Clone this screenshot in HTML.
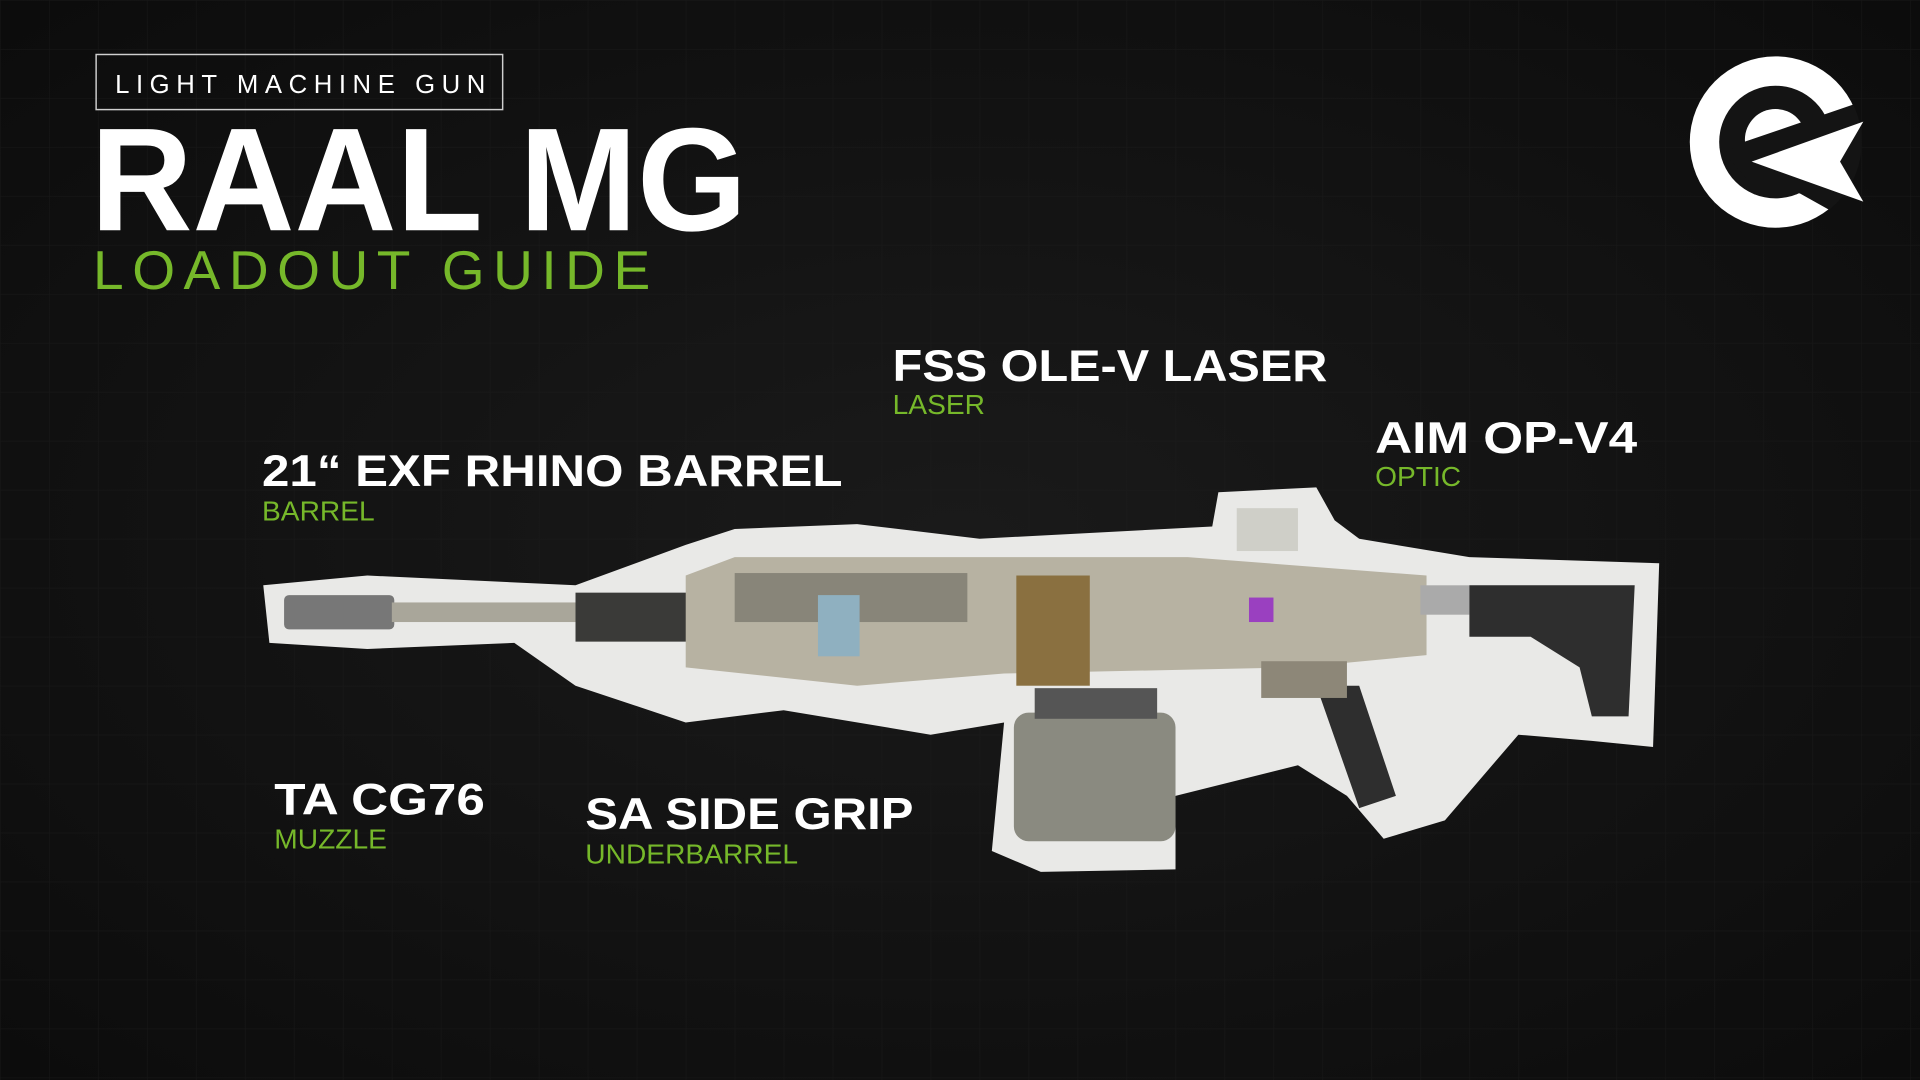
<!DOCTYPE html>
<html><head><meta charset="utf-8"><style>
html,body{margin:0;padding:0;background:#121212;width:1920px;height:1080px;overflow:hidden}
svg{display:block}
</style></head><body>
<svg width="1920" height="1080" viewBox="0 0 1568 882" xmlns="http://www.w3.org/2000/svg">
<defs>
<pattern id="g" width="40" height="40" patternUnits="userSpaceOnUse"><path d="M40 0H0V40" fill="none" stroke="#1d1d1d" stroke-width="1"/></pattern>
<radialGradient id="v" cx="50%" cy="50%" r="70%"><stop offset="0" stop-color="#1a1a1a"/><stop offset="1" stop-color="#0c0c0c"/></radialGradient>
<clipPath id="lc"><circle cx="1450" cy="116" r="70.5"/></clipPath>
</defs>
<rect width="1568" height="882" fill="url(#v)"/>
<rect width="1568" height="882" fill="url(#g)" opacity="0.6"/>

<!-- header -->
<rect x="78.5" y="44.5" width="332" height="45" fill="none" stroke="#cfcfcf" stroke-width="1.2"/>
<text x="94" y="76" font-family="Liberation Sans, sans-serif" font-size="21" fill="#fff" letter-spacing="3.6" textLength="306" lengthAdjust="spacing">LIGHT MACHINE GUN</text>
<text x="74" y="188" font-family="Liberation Sans, sans-serif" font-weight="bold" font-size="120" fill="#fff" textLength="536" lengthAdjust="spacingAndGlyphs">RAAL MG</text>
<text x="76" y="236" font-family="Liberation Sans, sans-serif" font-size="45" fill="#76b82a" letter-spacing="9" textLength="464" lengthAdjust="spacing">LOADOUT GUIDE</text>

<!-- logo -->
<circle cx="1450" cy="116" r="70" fill="#fff"/>
<g clip-path="url(#lc)">
<circle cx="1450" cy="116" r="46" fill="#141414"/>
<circle cx="1450" cy="114" r="25" fill="#fff"/>
<polygon fill="#141414" points="1425,115.7 1408,125 1430,150 1470,158 1495,172 1535,180 1535,84 1516.3,84.4"/>
</g>
<polygon fill="#fff" points="1430.5,132 1521.7,99.3 1502.7,132 1521.7,164.7"/>

<!-- paper -->
<polygon fill="#e9e9e7" points="215,478 300,470 470,478 560,445 600,432 700,428 800,440 990,430 995,402 1075,398 1090,425 1110,440 1200,455 1355,460 1350,610 1300,605 1240,600 1180,670 1130,685 1100,650 1060,625 960,650 960,710 850,712 810,695 820,590 760,600 640,580 560,590 470,560 420,525 300,530 220,525"/>
<!-- gun -->
<rect x="232" y="486" width="90" height="28" fill="#777" rx="4"/>
<rect x="320" y="492" width="160" height="16" fill="#a9a69a"/>
<rect x="470" y="484" width="95" height="40" fill="#3a3a38"/>
<polygon fill="#b7b2a2" points="560,470 600,455 970,455 1165,470 1165,535 1060,545 820,550 700,560 560,545"/>
<rect x="600" y="468" width="190" height="40" fill="#5a5850" opacity="0.5"/>
<rect x="668" y="486" width="34" height="50" fill="#8fb0c0"/>
<rect x="830" y="470" width="60" height="90" fill="#8a7040"/>
<rect x="1010" y="415" width="50" height="35" fill="#cfcfc8"/>
<rect x="1020" y="488" width="20" height="20" fill="#9a40c0"/>
<rect x="1160" y="478" width="40" height="24" fill="#aaa"/>
<polygon fill="#2e2e2e" points="1200,478 1335,478 1330,585 1300,585 1290,545 1250,520 1200,520"/>
<polygon fill="#2e2e2e" points="1075,560 1110,560 1140,650 1110,660"/>
<rect x="1030" y="540" width="70" height="30" fill="#8d8778"/>
<rect x="828" y="582" width="132" height="105" fill="#8a8a80" rx="12"/>
<rect x="845" y="562" width="100" height="25" fill="#555"/>

<!-- labels -->
<g font-family="Liberation Sans, sans-serif">
<g font-weight="bold" fill="#fff" font-size="36">
<text x="729" y="311" textLength="355" lengthAdjust="spacingAndGlyphs">FSS OLE-V LASER</text>
<text x="1123" y="370" textLength="214" lengthAdjust="spacingAndGlyphs">AIM OP-V4</text>
<text x="214" y="397" textLength="474" lengthAdjust="spacingAndGlyphs">21“ EXF RHINO BARREL</text>
<text x="224" y="665" textLength="172" lengthAdjust="spacingAndGlyphs">TA CG76</text>
<text x="478" y="677" textLength="268" lengthAdjust="spacingAndGlyphs">SA SIDE GRIP</text>
</g>
<g fill="#76b82a" font-size="23">
<text x="729" y="338">LASER</text>
<text x="1123" y="397">OPTIC</text>
<text x="214" y="425">BARREL</text>
<text x="224" y="693">MUZZLE</text>
<text x="478" y="705">UNDERBARREL</text>
</g>
</g>
</svg>
</body></html>
